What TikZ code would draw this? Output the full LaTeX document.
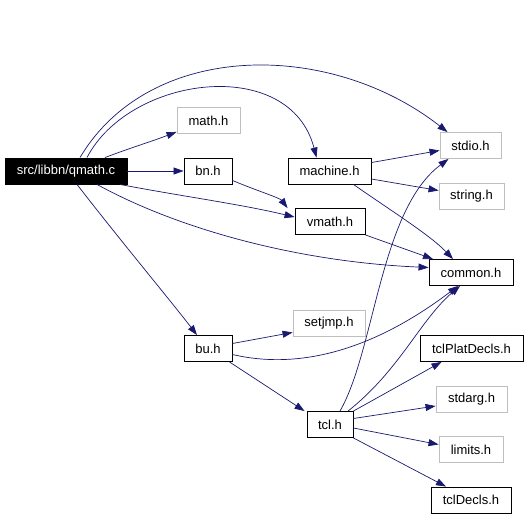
\documentclass[tikz,border=0pt]{standalone}
\usepackage{fontspec}
\setmainfont{Liberation Sans}
\usetikzlibrary{arrows.meta}
\definecolor{edge}{RGB}{25,25,112}
\definecolor{grayb}{RGB}{191,191,191}
\tikzset{
  box/.style={draw=black, line width=0.9pt, inner sep=0pt, anchor=center, font=\fontsize{13}{15}\selectfont, minimum height=26pt},
  gbox/.style={box, draw=grayb},
  root/.style={box, fill=black, text=white},
  dep/.style={draw=edge, line width=0.7pt, -{Triangle[length=10pt,width=7pt]}},
}
\begin{document}
\begin{tikzpicture}[x=1pt,y=-1pt]
\useasboundingbox (0,0) rectangle (528,519);
\node[root, minimum width=122pt] (qmath) at (66,171) {src/libbn/qmath.c};
\node[gbox, minimum width=63pt] (math) at (208.5,120.5) {math.h};
\node[box, minimum width=48pt] (bn) at (208,171) {bn.h};
\node[box, minimum width=83pt] (machine) at (329.5,171) {machine.h};
\node[box, minimum width=70pt] (vmath) at (330,221.5) {vmath.h};
\node[gbox, minimum width=61pt] (stdio) at (470.5,145.5) {stdio.h};
\node[gbox, minimum width=65pt] (string) at (471.5,196.5) {string.h};
\node[box, minimum width=84pt] (common) at (471,272.5) {common.h};
\node[gbox, minimum width=72pt] (setjmp) at (329,323) {setjmp.h};
\node[box, minimum width=48pt] (bu) at (208,348.5) {bu.h};
\node[box, minimum width=103pt] (tclplat) at (471.5,348.5) {tclPlatDecls.h};
\node[gbox, minimum width=71pt] (stdarg) at (471.5,399) {stdarg.h};
\node[box, minimum width=46pt] (tcl) at (330,424.5) {tcl.h};
\node[gbox, minimum width=64pt] (limits) at (471,449.5) {limits.h};
\node[box, minimum width=80pt] (tcldecls) at (471,500) {tclDecls.h};

% qmath edges
\draw[dep] ([xshift=14pt]qmath.north) .. controls (150,40) and (330,40) .. ([xshift=-23pt]stdio.north);
\draw[dep] ([xshift=21pt]qmath.north) .. controls (130,75) and (290,55) .. ([xshift=-13pt]machine.north);
\draw[dep] ([xshift=39pt]qmath.north) .. controls (130,148) and (150,142) .. ([yshift=2pt]math.south west);
\draw[dep] (qmath.east) -- (bn.west);
\draw[dep] ([xshift=54pt]qmath.south) .. controls (180,196) and (240,204) .. ([yshift=-9pt]vmath.north west);
\draw[dep] ([xshift=31pt]qmath.south) .. controls (180,230) and (300,262) .. ([yshift=5pt]common.west);
\draw[dep] ([xshift=11pt]qmath.south) .. controls (120,240) and (170,300) .. ([xshift=-11pt]bu.north);
% bn
\draw[dep] ([yshift=4pt]bn.south east) .. controls (255,190) and (280,198) .. ([xshift=-7pt]vmath.north west |- vmath.north);
% machine
\draw[dep] ([yshift=-5pt]machine.north east) -- ([yshift=-5pt]stdio.west);
\draw[dep] ([yshift=-8pt]machine.east) -- ([yshift=6pt]string.west);
\draw[dep] ([xshift=-18pt]machine.south east) .. controls (390,210) and (430,235) .. ([xshift=-18pt]common.north);
% vmath
\draw[dep] (vmath.south east) -- ([xshift=-38pt]common.north);
% bu
\draw[dep] ([yshift=5pt]bu.east) -- ([yshift=4pt]setjmp.south west);
\draw[dep] ([yshift=-6pt]bu.east) .. controls (320,375) and (400,330) .. ([xshift=-13pt]common.south);
\draw[dep] ([xshift=-3pt]bu.south east) -- ([xshift=-2pt]tcl.north west);
% tcl
\draw[dep] ([xshift=10pt]tcl.north) .. controls (375,350) and (380,210) .. ([xshift=-22pt]stdio.south);
\draw[dep] ([xshift=18pt]tcl.north) .. controls (400,370) and (420,320) .. ([xshift=-11pt]common.south);
\draw[dep] (tcl.north east) -- ([xshift=-30pt]tclplat.south);
\draw[dep] ([yshift=6pt]tcl.east) -- ([yshift=-7pt]stdarg.west);
\draw[dep] ([yshift=-3.5pt]tcl.east) -- ([yshift=5pt]limits.west);
\draw[dep] (tcl.south east) -- ([xshift=-25pt]tcldecls.north);
\end{tikzpicture}
\end{document}
